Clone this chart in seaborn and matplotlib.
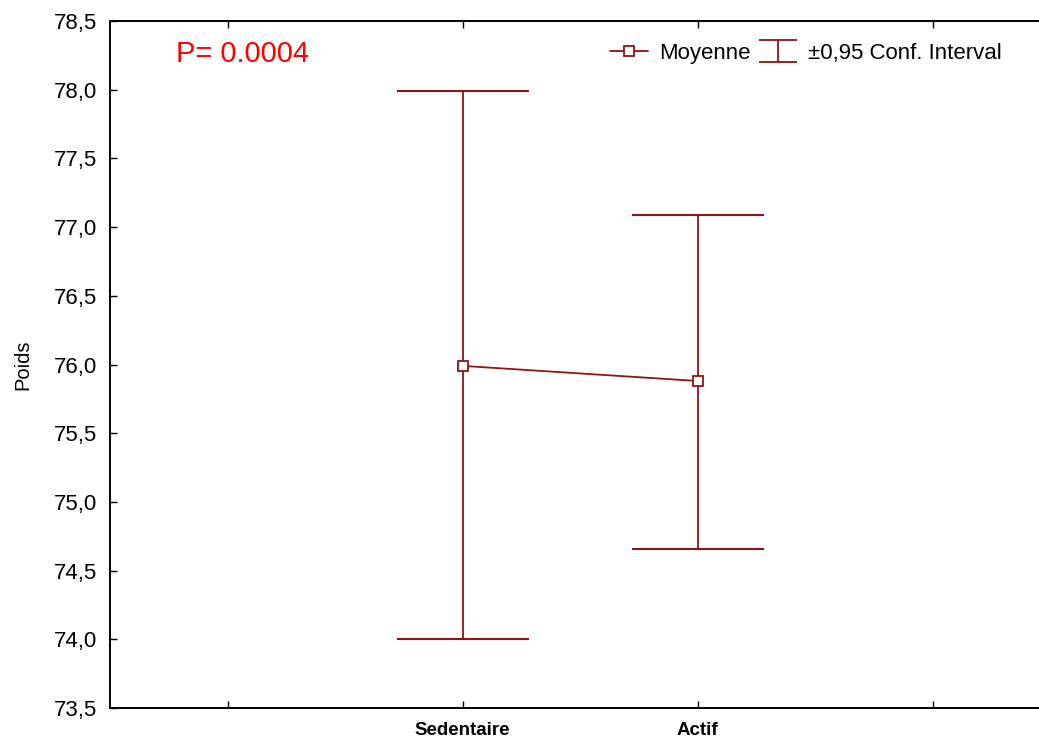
import matplotlib
matplotlib.use("Agg")
import matplotlib.pyplot as plt
import seaborn as sns
import numpy as np
import pandas as pd
from matplotlib.path import Path
from matplotlib.lines import Line2D
from matplotlib.ticker import FuncFormatter

# ---- data ----
groups = ["Sedentaire", "Actif"]
group_pos = [1, 2]
means = [75.99, 75.88]
ci_low = [74.00, 74.66]
ci_high = [77.99, 77.09]
xtick_labels = ["", "Sedentaire", "Actif", ""]
y_ticks = [73.5, 74.0, 74.5, 75.0, 75.5, 76.0, 76.5, 77.0, 77.5, 78.0, 78.5]
p_text = "P= 0.0004"

sns.set_theme(style="white")
plt.rcParams['font.family'] = ['Liberation Sans', 'DejaVu Sans']
plt.rcParams['text.color'] = 'black'
plt.rcParams['axes.labelcolor'] = 'black'

col = '#8C1515'
fig = plt.figure(figsize=(10.39, 7.40), dpi=100)
ax = fig.add_axes([110/1039, 32/740, 940/1039, 687/740])

df = pd.DataFrame({"x": group_pos, "Poids": means})
sns.lineplot(data=df, x="x", y="Poids", ax=ax, color=col, lw=1.3,
             marker='s', markersize=7, markerfacecolor='white',
             markeredgecolor=col, markeredgewidth=1.3, zorder=5)

lo = np.array(means) - np.array(ci_low)
hi = np.array(ci_high) - np.array(means)
ax.errorbar(group_pos, means, yerr=[lo, hi], fmt='none', ecolor=col,
            elinewidth=1.3, capsize=47.5, capthick=1.5, zorder=4)

ax.set_xlim(-0.5, 3.5)
ax.set_ylim(73.5, 78.5)
ax.set_xticks([0, 1, 2, 3])
ax.set_xticklabels(xtick_labels, fontsize=13.5, fontweight='bold')
ax.set_yticks(y_ticks)
ax.yaxis.set_major_formatter(FuncFormatter(lambda v, p: f"{v:.1f}".replace('.', ',')))
ax.tick_params(axis='y', labelsize=16, direction='in', length=5, width=1, left=True, pad=9, colors='black')
ax.tick_params(axis='x', direction='in', length=5, width=1, bottom=True, top=True, pad=10, colors='black')
ax.set_xlabel("")
ax.set_ylabel("Poids", fontsize=14.5, color='black')
ax.yaxis.set_label_coords(-0.083, 0.5)

for s in ['left', 'bottom', 'top']:
    ax.spines[s].set_visible(True)
    ax.spines[s].set_color('black')
    ax.spines[s].set_linewidth(1.4)
ax.spines['right'].set_visible(False)

ax.text((176-110)/940, (708-54)/687, p_text, transform=ax.transAxes,
        fontsize=21, color='red', ha='left', va='center')

# legend
ipath = Path([(-1, 0.57), (1, 0.57), (0, 0.57), (0, -0.57), (-1, -0.57), (1, -0.57)],
             [Path.MOVETO, Path.LINETO, Path.MOVETO, Path.LINETO, Path.MOVETO, Path.LINETO])
h1 = Line2D([], [], color=col, lw=1.3, marker='s', markersize=7,
            markerfacecolor='white', markeredgecolor=col, markeredgewidth=1.3)
h2 = Line2D([], [], color=col, linestyle='none', marker=ipath, markersize=27,
            markerfacecolor='none', markeredgecolor=col, markeredgewidth=1.3)
leg = ax.legend([h1, h2], ["Moyenne", "±0,95 Conf. Interval"], ncol=2,
                loc='center right', bbox_to_anchor=(1002/1039, 1 - 53/740),
                bbox_transform=fig.transFigure, frameon=False, fontsize=16,
                borderpad=0, borderaxespad=0, handlelength=1.7, handletextpad=0.5,
                columnspacing=0.4)
for t in leg.get_texts():
    t.set_color('black')

fig.savefig("out.png", dpi=100)
